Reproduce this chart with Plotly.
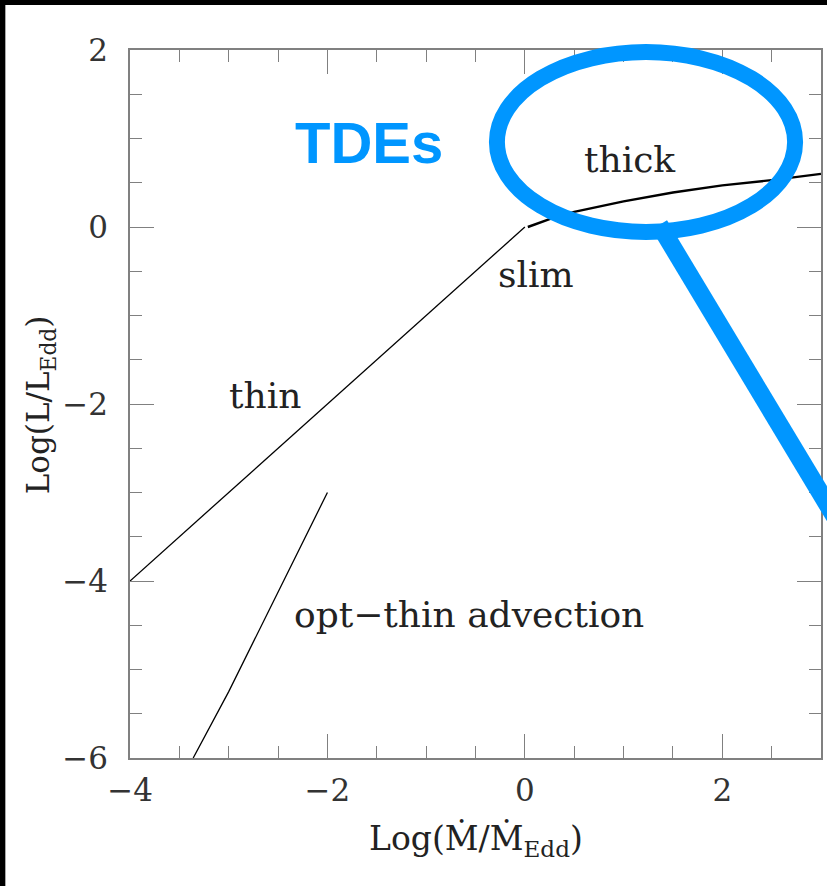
import plotly.graph_objects as go

# ---- data ----
thin_x = [-4.0, 0.0]
thin_y = [-4.0, 0.0]

thick_x = [0.03, 0.25, 0.5, 1.0, 1.5, 2.0, 2.5, 3.0]
thick_y = [0.0, 0.09, 0.17, 0.29, 0.39, 0.47, 0.53, 0.60]

adv_x = [-2.0, -3.0, -3.36]
adv_y = [-3.0, -5.25, -6.0]

label_text = ["thick", "slim", "thin", "opt\u2212thin advection"]
label_x = [1.07, 0.11, -2.63, -0.57]
label_y = [0.76, -0.54, -1.90, -4.38]

x_ticks = [-4, -2, 0, 2]
y_ticks = [-6, -4, -2, 0, 2]

BLUE = "#0096FF"
SERIF = "DejaVu Serif"
AXC = "#808080"

fig = go.Figure()
fig.add_trace(go.Scatter(x=thin_x, y=thin_y, mode="lines",
                         line=dict(color="black", width=1.3), showlegend=False))
fig.add_trace(go.Scatter(x=thick_x, y=thick_y, mode="lines",
                         line=dict(color="black", width=2.4), showlegend=False))
fig.add_trace(go.Scatter(x=adv_x, y=adv_y, mode="lines",
                         line=dict(color="black", width=1.3), showlegend=False))

for t, x, y in zip(label_text, label_x, label_y):
    fig.add_annotation(x=x, y=y, text=t, showarrow=False,
                       font=dict(family=SERIF, size=36, color="#222"))

fig.add_annotation(x=-1.58, y=0.95, text="<b>TDEs</b>", showarrow=False,
                   font=dict(family="Liberation Sans", size=58, color=BLUE))

# magnifier decoration (paper coords)
fig.add_shape(type="circle", xref="paper", yref="paper",
              x0=0.531, x1=0.9625, y0=0.743, y1=0.997,
              line=dict(color=BLUE, width=16), layer="above")
fig.add_shape(type="line", xref="paper", yref="paper",
              x0=0.766, y0=0.753, x1=1.0245, y1=0.3333,
              line=dict(color=BLUE, width=18), layer="above")

# black frame on top and left
fig.add_shape(type="rect", xref="paper", yref="paper",
              x0=-0.3, x1=1.2, y0=1.0636, y1=1.2,
              line=dict(width=0), fillcolor="black", layer="above")
fig.add_shape(type="rect", xref="paper", yref="paper",
              x0=-0.3, x1=-0.1804, y0=-0.3, y1=1.2,
              line=dict(width=0), fillcolor="black", layer="above")

axis_common = dict(
    showgrid=False, zeroline=False, showline=True, linecolor=AXC, linewidth=1.5,
    mirror="allticks", ticks="inside", ticklen=24, tickwidth=1.3, tickcolor=AXC,
    tick0=0,
    minor=dict(dtick=0.5, ticks="inside", ticklen=12, tickwidth=1.3, tickcolor=AXC,
               showgrid=False),
    tickfont=dict(family=SERIF, size=31, color="#333"),
)

fig.update_xaxes(range=[-4, 3], tickvals=x_ticks, ticklabelstandoff=4, **axis_common)
fig.update_yaxes(range=[-6, 2], tickvals=y_ticks, ticklabelstandoff=14, **axis_common)

fig.update_layout(
    width=827, height=886,
    margin=dict(l=130, r=4, t=50, b=128),
    paper_bgcolor="white", plot_bgcolor="white",
    showlegend=False,
)

fig.add_annotation(xref="paper", yref="paper", x=(477 - 130) / 693, y=(758 - 840) / 708,
                   xanchor="center", yanchor="middle",
                   text="Log(\u1E40/\u1E40<sub>Edd</sub>)", showarrow=False,
                   font=dict(family=SERIF, size=33, color="#222"))
fig.add_annotation(xref="paper", yref="paper", x=(40 - 130) / 693, y=(758 - 405) / 708,
                   xanchor="center", yanchor="middle",
                   text="Log(L/L<sub>Edd</sub>)", showarrow=False, textangle=-90,
                   font=dict(family=SERIF, size=31, color="#222"))

fig.write_html("out.html")
